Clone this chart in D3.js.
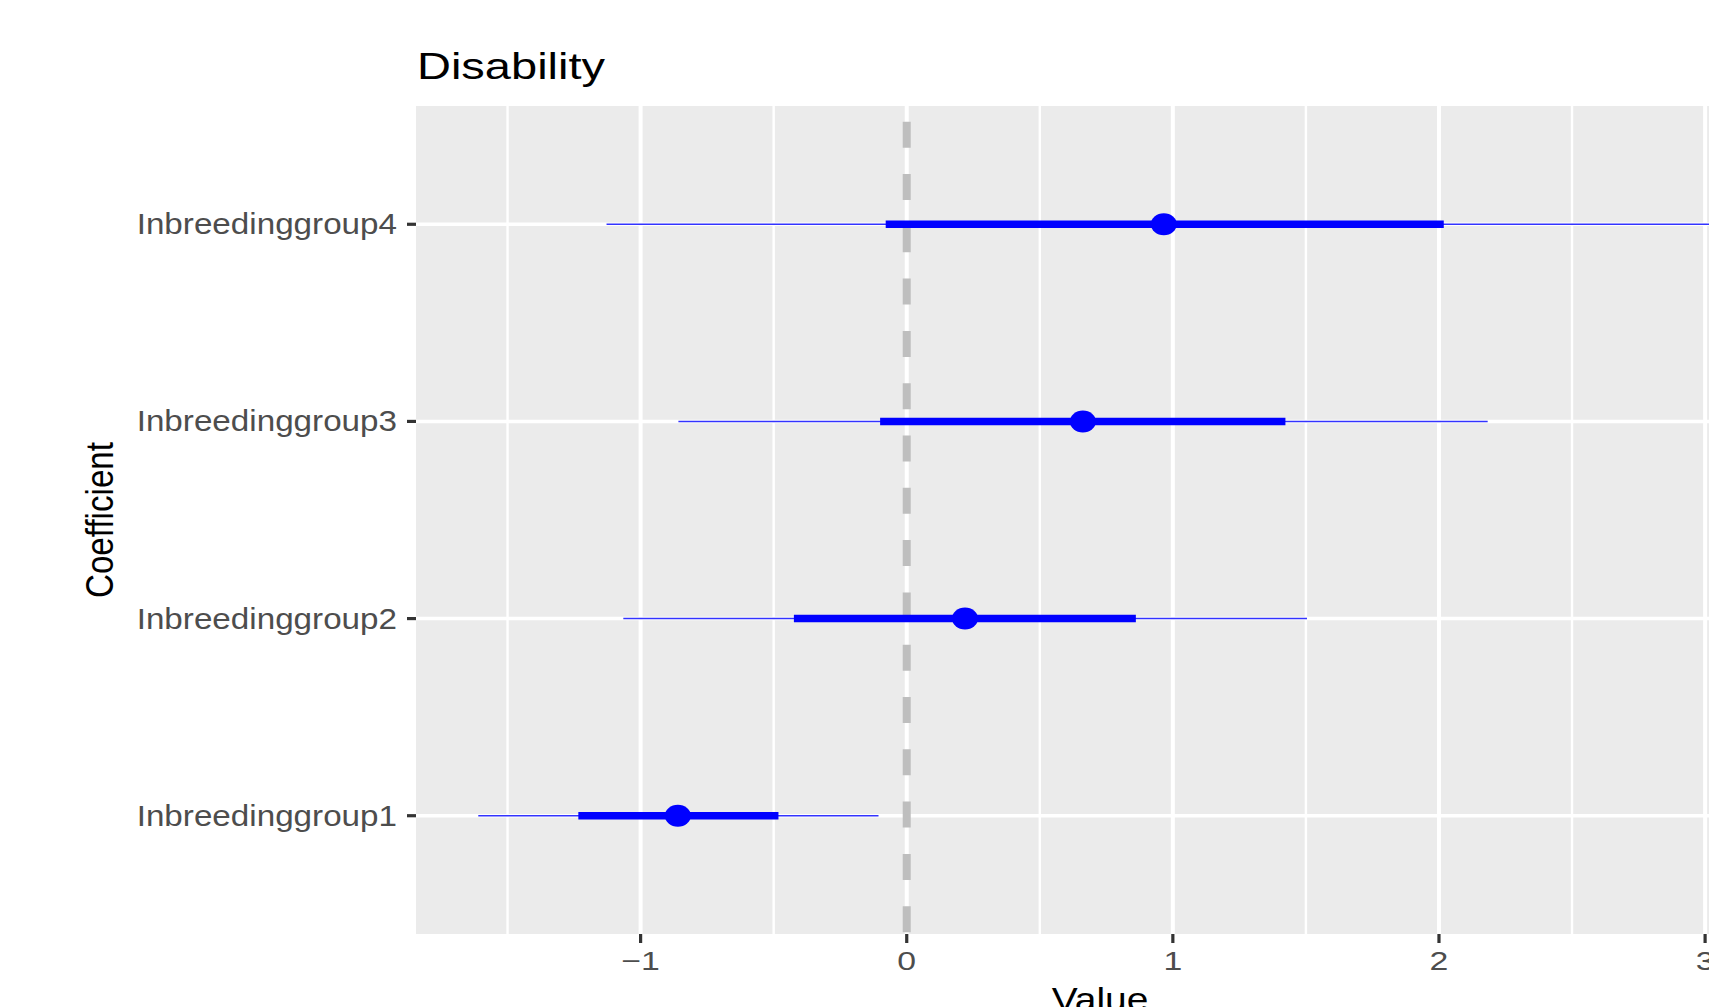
<!DOCTYPE html>
<html>
<head>
<meta charset="utf-8">
<script src="https://cdn.jsdelivr.net/npm/d3@7"></script>
<style>
  html, body { margin: 0; padding: 0; background: #ffffff; overflow: hidden; }
  svg { display: block; }
  text { font-family: "Liberation Sans", Arial, Helvetica, sans-serif; }
</style>
</head>
<body>
<svg id="chart" width="1709" height="1007"></svg>
<script>
// ---- data ----
const categories = ["Inbreedinggroup1", "Inbreedinggroup2", "Inbreedinggroup3", "Inbreedinggroup4"];
const estimates  = [-0.860, 0.219, 0.662, 0.966];
const innerLow   = [-1.234, -0.424, -0.100, -0.079];
const innerHigh  = [-0.482, 0.861, 1.423, 2.018];
const outerLow   = [-1.610, -1.065, -0.858, -1.128];
const outerHigh  = [-0.106, 1.504, 2.183, 3.070];
const xTicks      = [-1, 0, 1, 2, 3];
const xMinorTicks = [-1.5, -0.5, 0.5, 1.5, 2.5];
const titleText  = "Disability";
const xTitle     = "Value";
const yTitle     = "Coefficient";

const rows = categories.map((c, i) => ({
  name: c, est: estimates[i], lo1: innerLow[i], hi1: innerHigh[i], lo2: outerLow[i], hi2: outerHigh[i]
}));

// ---- layout ----
const svg = d3.select("#chart");
const P = { left: 416, right: 1786, top: 106, bottom: 934 };

const dmin = d3.min(outerLow), dmax = d3.max(outerHigh);
const pad = 0.05 * (dmax - dmin);
const x = d3.scaleLinear().domain([dmin - pad, dmax + pad]).range([P.left, P.right]);
const y = d3.scalePoint().domain(categories.slice().reverse()).range([P.top, P.bottom]).padding(0.6);

// panel background
svg.append("rect")
  .attr("x", P.left).attr("y", P.top)
  .attr("width", P.right - P.left).attr("height", P.bottom - P.top)
  .attr("fill", "#EBEBEB");

// minor grid
svg.append("g").selectAll("line").data(xMinorTicks).join("line")
  .attr("x1", d => x(d)).attr("x2", d => x(d))
  .attr("y1", P.top).attr("y2", P.bottom)
  .attr("stroke", "#ffffff").attr("stroke-width", 2.4);

// major grid
svg.append("g").selectAll("line").data(xTicks).join("line")
  .attr("x1", d => x(d)).attr("x2", d => x(d))
  .attr("y1", P.top).attr("y2", P.bottom)
  .attr("stroke", "#ffffff").attr("stroke-width", 4);
svg.append("g").selectAll("line").data(categories).join("line")
  .attr("x1", P.left).attr("x2", P.right)
  .attr("y1", d => y(d)).attr("y2", d => y(d))
  .attr("stroke", "#ffffff").attr("stroke-width", 3.6);

// zero reference line (dashed)
svg.append("line")
  .attr("x1", x(0)).attr("x2", x(0))
  .attr("y1", P.top).attr("y2", P.bottom)
  .attr("stroke", "#BEBEBE").attr("stroke-width", 8)
  .attr("stroke-dasharray", "26 26.3")
  .attr("stroke-dashoffset", 36.6);

// outer intervals
svg.append("g").selectAll("line").data(rows).join("line")
  .attr("x1", d => x(d.lo2)).attr("x2", d => x(d.hi2))
  .attr("y1", d => y(d.name)).attr("y2", d => y(d.name))
  .attr("stroke", "#0000FF").attr("stroke-opacity", 0.8).attr("stroke-width", 1.6);

// inner intervals
svg.append("g").selectAll("line").data(rows).join("line")
  .attr("x1", d => x(d.lo1)).attr("x2", d => x(d.hi1))
  .attr("y1", d => y(d.name)).attr("y2", d => y(d.name))
  .attr("stroke", "#0000FF").attr("stroke-width", 7.5);

// points
svg.append("g").selectAll("ellipse").data(rows).join("ellipse")
  .attr("cx", d => x(d.est)).attr("cy", d => y(d.name))
  .attr("rx", 13).attr("ry", 11)
  .attr("fill", "#0000FF");

// ---- axes ----
// y ticks
svg.append("g").selectAll("line").data(categories).join("line")
  .attr("x1", P.left - 9).attr("x2", P.left)
  .attr("y1", d => y(d)).attr("y2", d => y(d))
  .attr("stroke", "#333333").attr("stroke-width", 3.2);

function stretch(sel, k) {
  sel.each(function () {
    const w = this.getComputedTextLength();
    d3.select(this).attr("textLength", w * k).attr("lengthAdjust", "spacingAndGlyphs");
  });
}

svg.append("g").selectAll("text").data(categories).join("text")
  .attr("x", P.left - 19).attr("y", d => y(d) + 10)
  .attr("text-anchor", "end")
  .attr("font-size", 29)
  .attr("fill", "#4D4D4D")
  .text(d => d)
  .call(stretch, 1.145);

// x ticks
svg.append("g").selectAll("line").data(xTicks).join("line")
  .attr("x1", d => x(d)).attr("x2", d => x(d))
  .attr("y1", P.bottom).attr("y2", P.bottom + 9)
  .attr("stroke", "#333333").attr("stroke-width", 3.2);

svg.append("g").selectAll("text").data(xTicks).join("text")
  .attr("x", d => x(d)).attr("y", 970)
  .attr("text-anchor", "middle")
  .attr("font-size", 26)
  .attr("fill", "#4D4D4D")
  .text(d => d < 0 ? "\u2212" + Math.abs(d) : String(d))
  .call(stretch, 1.3);

// title
svg.append("text")
  .attr("x", P.left + 1).attr("y", 78.5)
  .attr("font-size", 37)
  .attr("fill", "#000000")
  .text(titleText)
  .call(stretch, 1.27);

// axis titles
svg.append("text")
  .attr("x", (P.left + P.right) / 2 - 1).attr("y", 1011)
  .attr("text-anchor", "middle")
  .attr("font-size", 33)
  .attr("fill", "#000000")
  .text(xTitle)
  .call(stretch, 1.18);

svg.append("text")
  .attr("transform", `translate(113,${(P.top + P.bottom) / 2}) rotate(-90)`)
  .attr("text-anchor", "middle")
  .attr("font-size", 39)
  .attr("fill", "#000000")
  .attr("textLength", 156)
  .attr("lengthAdjust", "spacingAndGlyphs")
  .text(yTitle);
</script>
</body>
</html>
